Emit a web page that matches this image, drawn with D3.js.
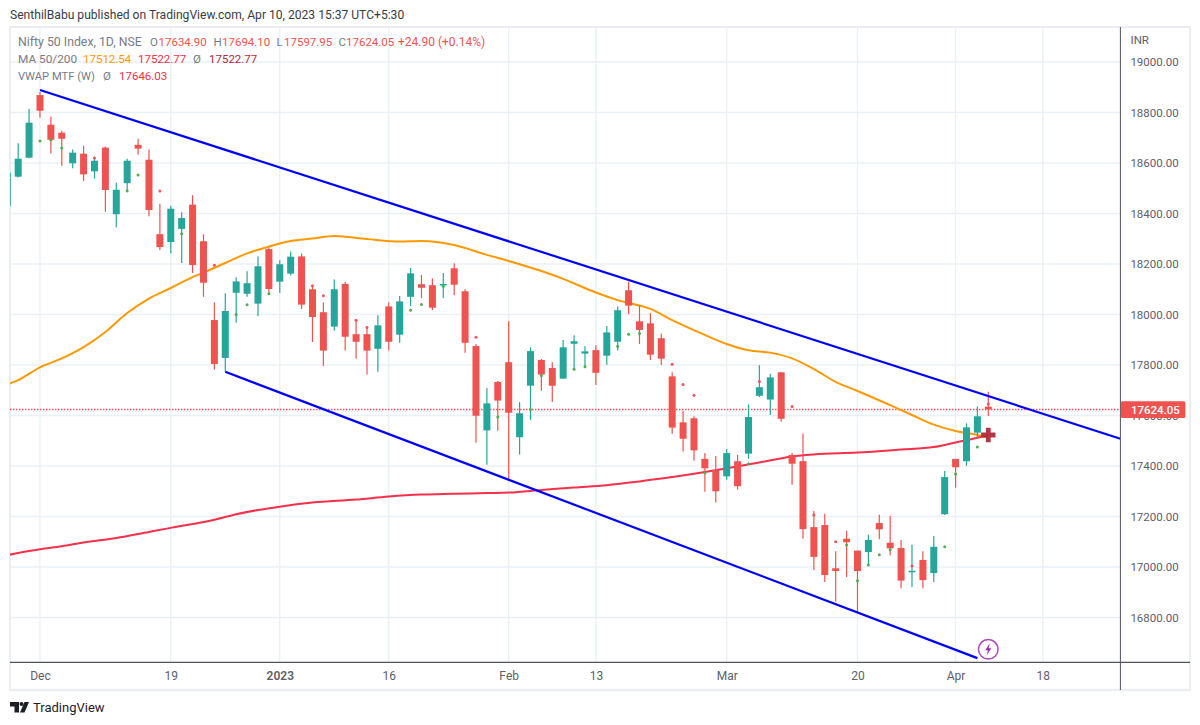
<!DOCTYPE html>
<html>
<head>
<meta charset="utf-8">
<title>Nifty 50 Index, 1D, NSE</title>
<script src="https://cdn.jsdelivr.net/npm/d3@7"></script>
<style>
    html, body { margin: 0; padding: 0; background: #fff; }
    svg { display: block; }
    text { font-family: "Roboto", sans-serif; }
</style>
</head>
<body>
<div id="chart"></div>
<script>
// trading days, the last five have no bars yet
var dates = ["2022-11-28","2022-11-29","2022-11-30","2022-12-01","2022-12-02","2022-12-05","2022-12-06","2022-12-07","2022-12-08","2022-12-09",
    "2022-12-12","2022-12-13","2022-12-14","2022-12-15","2022-12-16","2022-12-19","2022-12-20","2022-12-21","2022-12-22","2022-12-23",
    "2022-12-26","2022-12-27","2022-12-28","2022-12-29","2022-12-30","2023-01-02","2023-01-03","2023-01-04","2023-01-05","2023-01-06",
    "2023-01-09","2023-01-10","2023-01-11","2023-01-12","2023-01-13","2023-01-16","2023-01-17","2023-01-18","2023-01-19","2023-01-20",
    "2023-01-23","2023-01-24","2023-01-25","2023-01-27","2023-01-30","2023-01-31","2023-02-01","2023-02-02","2023-02-03","2023-02-06",
    "2023-02-07","2023-02-08","2023-02-09","2023-02-10","2023-02-13","2023-02-14","2023-02-15","2023-02-16","2023-02-17","2023-02-20",
    "2023-02-21","2023-02-22","2023-02-23","2023-02-24","2023-02-27","2023-02-28","2023-03-01","2023-03-02","2023-03-03","2023-03-06",
    "2023-03-08","2023-03-09","2023-03-10","2023-03-13","2023-03-14","2023-03-15","2023-03-16","2023-03-17","2023-03-20","2023-03-21",
    "2023-03-22","2023-03-23","2023-03-24","2023-03-27","2023-03-28","2023-03-29","2023-03-31","2023-04-03","2023-04-05","2023-04-06",
    "2023-04-10","2023-04-11","2023-04-12","2023-04-13","2023-04-17","2023-04-18"];

var opens = [18430,18545.7,18621,18869,18751.6,18720,18599,18637,18567,18661,18397,18520,18672,18613,18318,18287,18339,18435,18290,17978,
    17828,18086,18082,18043,18259,18130,18162,18230,18100,18009,17952,18121,17922,17922,17864,18032,17920,18070,18120,18116,
    18118,18183,18092,17875,17541,17733,17811,17514,17718,17820,17788,17746,17884,17845,17859,17837,17892,18096,17973,17965,
    17906,17755,17573,17589,17428,17384,17359,17419,17449,17678,17663,17771,17444,17419,17158,17166,16995,17112,17065,17059,
    17174,17096,17075,16981,17028,16976,17209,17428,17419,17532,17634.9];
var highs = [18590,18678,18814,18881,18783,18728,18653,18668,18625,18665,18522,18617,18696,18653,18439,18431,18405,18472,18318,18049,
    18084,18148,18171,18230,18266,18215,18250,18242,18113,18048,18139,18129,17978,17952,17997,18049,18073,18184,18156,18143,
    18164,18203,18100,17883,17709,17737,17974,17653,17870,17824,17811,17899,17918,17874,17878,17954,18032,18130,18035,18005,
    17925,17771,17618,17597,17451,17440,17467,17444,17644,17799,17764,17772,17451,17529,17222,17211,17062,17144,17065,17128,
    17207,17203,17107,17088,17062,17123,17380,17428,17569,17636,17694.1];
var lows = [18410,18543,18618.5,18779,18638,18589,18579,18529,18538,18407,18346,18484,18633,18389,18255,18243,18204,18164,18070,17781,
    17773,17967,18070,17994,18081,18085,18154,18022,17891,17797,17936,17857,17825,17762,17773,17857,17888,18034,18065,18018,
    18065,18077,17849,17492,17405,17540,17344,17445,17583,17698,17653,17746,17783,17793,17721,17801,17857,18002,17883,17820,
    17800,17528,17457,17421,17298,17255,17346,17306,17429,17673,17602,17575,17326,17112,16988,16941,16863,16960,16822,17008,
    17110,17046,16916,16921,16916,16941,17206,17314,17401,17508,17597.95];
var closes = [18561.6,18617,18759.6,18807,18692,18696,18641,18555,18609,18493,18494,18609,18657,18414,18267,18419,18382,18196,18126,17804,
    18014,18131,18124,18191,18101,18199,18229,18039,17990,17857,18100,17912,17892,17857,17957,17892,18052,18163,18106,18027,
    18121,18118,17888,17599,17648,17659,17611,17609,17855,17762,17718,17870,17894,17854,17769,17929,18017,18035,17939,17841,
    17825,17552,17508,17462,17391,17300,17451,17320,17594,17712,17751,17587,17409,17150,17040,16968,16984,17098,16984,17107,
    17149,17074,16946,16985,16948,17080,17356,17395,17553,17597,17624.05];

var ma50Bars = [0,1,3,5,6,7,9,11,13,15,17,18,20,22,24,26,28,30,33,36,38,41,44,46,49,51,54,56,59,61,64,66,68,70,72,74,76,78,81,83,85,87,89,90];
var ma50Values = [17723,17740,17791,17826,17847,17871,17931,18006,18063,18105,18148,18166,18204,18242,18269,18291,18301,18311,18299,18289,18291,18275,18236,18212,18172,18141,18087,18057,18022,17978,17919,17883,17858,17849,17826,17784,17733,17697,17641,17602,17564,17539,17523,17512.54];

var ma200Bars = [0,3,5,7,10,13,15,19,21,25,28,32,35,38,41,44,46,49,52,55,58,61,64,66,69,72,74,78,82,85,87,89,90];
var ma200Values = [17047,17070,17082,17097,17115,17139,17155,17187,17209,17239,17255,17267,17279,17287,17290,17293,17295,17305,17315,17324,17339,17356,17376,17391,17414,17438,17446,17453,17465,17475,17493,17512,17522.77];

var vwapBars = [3,4,5,8,11,12,14,16,19,21,22,24,28,29,32,33,37,38,40,43,45,48,49,52,53,56,57,58,61,62,63,64,68,69,72,74,76,77,78,79,80,81,83,86,87,89,90];
var vwapValues = [18687,18691,18659,18620,18490,18552,18489,18320,18195,18000,18039,18082,18114,18074,17977,17949,18017,18040,18112,17910,17594,17624,17758,17783,17793,17874,17922,17925,17803,17723,17680,17372,17409,17735,17636,17206,17100,17087,16946,17008,17049,17068,17004,17080,17368,17475,17646.03];
var vwapSides = ["up","up","up","down","up","up","down","up","down","up","up","up","down","down","down","down","up","up","up","down","up","up","up","up","up","up","up","up","down","down","down","up","up","down","down","down","down","up","up","up","up","up","down","up","up","up","down"];

// trend lines drawn by the author: [bar, price]
var upperTrend = [[3,18889],[102.12,17508]];
var lowerTrend = [[20,17773],[89,16639]];

var crossBar = 90;
var crossPrice = 17522.77;
var lastClose = 17624.05;

var priceTicks = [16800,17000,17200,17400,17600,17800,18000,18200,18400,18600,18800,19000];
var dateTicks = ["2022-12-01","2022-12-19","2023-01-02","2023-01-16","2023-02-01","2023-02-13","2023-03-01","2023-03-20","2023-04-03","2023-04-18"];
var dateTickLabels = ["Dec","19","2023","16","Feb","13","Mar","20","Apr","18"];

var UP = "#26a69a", DOWN = "#ef5350", GRID = "#e9f0f6", AXIS = "#50535e", LABEL = "#5d606b", MUTED = "#787b86";

var paneLeft = 10, paneRight = 1120.4, outerRight = 1190, paneTop = 27, paneBottom = 662.3, outerBottom = 690;

var svg = d3.select("#chart").append("svg").attr("width", 1200).attr("height", 725);

var x = d3.scaleLinear().domain([0.25, 102.12]).range([paneLeft, paneRight]);
var y = d3.scaleLinear().domain([16800, 19000]).range([617.5, 62]);

svg.append("defs").append("clipPath").attr("id", "pane")
    .append("rect").attr("x", paneLeft).attr("y", paneTop).attr("width", paneRight - paneLeft).attr("height", paneBottom - paneTop);

// frame
svg.append("rect").attr("x", paneLeft).attr("y", paneTop).attr("width", outerRight - paneLeft).attr("height", outerBottom - paneTop)
    .attr("fill", "none").attr("stroke", "#e6e8ee").attr("stroke-width", 1.5);
svg.append("line").attr("x1", paneLeft).attr("x2", outerRight).attr("y1", outerBottom).attr("y2", outerBottom)
    .attr("stroke", "#ecedf2").attr("stroke-width", 2.5);

// grid
var grid = svg.append("g");
grid.selectAll(".h").data(priceTicks).join("line")
    .attr("x1", paneLeft).attr("x2", paneRight).attr("y1", d => y(d)).attr("y2", d => y(d))
    .attr("stroke", GRID).attr("stroke-width", 1.3);
grid.selectAll(".v").data(dateTicks).join("line")
    .attr("x1", d => x(dates.indexOf(d))).attr("x2", d => x(dates.indexOf(d)))
    .attr("y1", paneTop).attr("y2", paneBottom)
    .attr("stroke", GRID).attr("stroke-width", 1.3);

var pane = svg.append("g").attr("clip-path", "url(#pane)");

// last price line
pane.append("line").attr("x1", paneLeft).attr("x2", paneRight).attr("y1", y(lastClose)).attr("y2", y(lastClose))
    .attr("stroke", "#f7525f").attr("stroke-width", 1.6).attr("stroke-dasharray", "1.5 1.5");

// moving averages
var maLine = d3.line().x(d => x(d[0])).y(d => y(d[1])).curve(d3.curveMonotoneX);
pane.append("path").attr("d", maLine(d3.zip(ma50Bars, ma50Values)))
    .attr("fill", "none").attr("stroke", "#ff9800").attr("stroke-width", 2);
pane.append("path").attr("d", maLine(d3.zip(ma200Bars, ma200Values)))
    .attr("fill", "none").attr("stroke", "#f5304a").attr("stroke-width", 2);

// candles
var bars = opens.map((o, i) => ({ i: i, o: o, h: highs[i], l: lows[i], c: closes[i] }));
var candle = pane.selectAll(".candle").data(bars).join("g").attr("class", "candle");
candle.append("line")
    .attr("x1", d => x(d.i)).attr("x2", d => x(d.i))
    .attr("y1", d => y(d.h)).attr("y2", d => y(d.l))
    .attr("stroke", d => d.c >= d.o ? UP : DOWN).attr("stroke-width", 1.2);
candle.append("rect")
    .attr("x", d => x(d.i) - 3.5).attr("width", 7)
    .attr("y", d => y(Math.max(d.o, d.c)))
    .attr("height", d => Math.max(1.5, Math.abs(y(d.o) - y(d.c))))
    .attr("fill", d => d.c >= d.o ? UP : DOWN);

// vwap dots
pane.selectAll(".vwap").data(vwapBars).join("circle")
    .attr("cx", d => x(d))
    .attr("cy", (d, i) => y(vwapValues[i]))
    .attr("r", 1.5)
    .attr("fill", (d, i) => vwapSides[i] == "up" ? "#4caf50" : "#f7525f");

// trend lines
[upperTrend, lowerTrend].forEach(function(t) {
    pane.append("line")
        .attr("x1", x(t[0][0])).attr("y1", y(t[0][1]))
        .attr("x2", x(t[1][0])).attr("y2", y(t[1][1]))
        .attr("stroke", "#0000ff").attr("stroke-width", 2.2);
});

// ma cross marker
var cx = x(crossBar), cy = y(crossPrice);
pane.append("path")
    .attr("d", d3.symbol().type(d3.symbolCross).size(115)())
    .attr("transform", "translate(" + cx + "," + cy + ")")
    .attr("fill", "#b02a3c").attr("opacity", 0.95);

// lightning badge
var badge = svg.append("g").attr("transform", "translate(" + x(90) + ",649.3)");
badge.append("circle").attr("r", 9.8).attr("fill", "#fff").attr("stroke", "#ab47bc").attr("stroke-width", 1.5);
badge.append("path").attr("d", "M1.5,-6 L-3,1 L-0.3,1 L-1.5,6 L3,-1 L0.3,-1 Z").attr("fill", "#9c27b0");

// axis frame lines
svg.append("line").attr("x1", paneRight).attr("x2", paneRight).attr("y1", paneTop).attr("y2", outerBottom)
    .attr("stroke", AXIS).attr("stroke-width", 1);
svg.append("line").attr("x1", paneLeft).attr("x2", outerRight).attr("y1", paneBottom).attr("y2", paneBottom)
    .attr("stroke", AXIS).attr("stroke-width", 1.3);

// price axis
var yAxis = svg.append("g").attr("transform", "translate(" + paneRight + ",0)")
    .call(d3.axisRight(y).tickValues(priceTicks).tickFormat(d => d.toFixed(2)).tickSize(0).tickPadding(10));
yAxis.select(".domain").remove();
yAxis.selectAll("text").attr("font-size", 11.5).attr("fill", LABEL).style("font-family", "Roboto");

svg.append("text").attr("x", 1130.5).attr("y", 44).attr("font-size", 11.5).attr("fill", LABEL).text("INR");

// time axis
var xAxis = svg.append("g").attr("transform", "translate(0," + paneBottom + ")")
    .call(d3.axisBottom(x)
        .tickValues(dateTicks.map(d => dates.indexOf(d)))
        .tickFormat((d, i) => dateTickLabels[i])
        .tickSize(0).tickPadding(9));
xAxis.select(".domain").remove();
xAxis.selectAll("text").attr("font-size", 12).attr("fill", LABEL).style("font-family", "Roboto")
    .attr("font-weight", (d, i) => dateTickLabels[i] == "2023" ? 600 : 400);

// last price tag
svg.append("rect").attr("x", paneRight + 0.5).attr("y", y(lastClose) - 8.3).attr("width", 64.5).attr("height", 16.8).attr("rx", 1.5)
    .attr("fill", DOWN);
svg.append("text").attr("x", paneRight + 10.5).attr("y", y(lastClose) + 4.2)
    .attr("font-size", 11.5).attr("font-weight", 500).attr("fill", "#fff").text(lastClose.toFixed(2));

// header and legend
svg.append("text").attr("x", 10).attr("y", 19).attr("font-size", 12.1).attr("fill", "#3a3c44")
    .text("SenthilBabu published on TradingView.com, Apr 10, 2023 15:37 UTC+5:30");

function legend(xPos, yPos, txt, color, size) {
    svg.append("text").attr("x", xPos).attr("y", yPos).attr("font-size", size || 11.5).attr("fill", color).text(txt);
}
legend(18, 46, "Nifty 50 Index, 1D, NSE", MUTED, 12.3);
legend(150, 46, "O", MUTED);
legend(158.5, 46, "17634.90", DOWN);
legend(213.5, 46, "H", MUTED);
legend(222, 46, "17694.10", DOWN);
legend(276.5, 46, "L", MUTED);
legend(284, 46, "17597.95", DOWN);
legend(338.5, 46, "C", MUTED);
legend(346, 46, "17624.05", DOWN);
legend(398, 46, "+24.90 (+0.14%)", DOWN, 12);
legend(18, 63, "MA 50/200", MUTED, 11.8);
legend(83, 63, "17512.54", "#ff9800");
legend(138, 63, "17522.77", "#f5304a");
legend(193, 63, "Ø", MUTED);
legend(209, 63, "17522.77", "#b02a3c");
legend(18, 80, "VWAP MTF (W)", MUTED, 11.2);
legend(103, 80, "Ø", MUTED);
legend(119, 80, "17646.03", "#f5304a");

// footer logo
var logo = svg.append("g").attr("fill", "#1c1e26");
logo.append("path").attr("d", "M10,702 H19 V712.5 H14.5 V706.5 H10 Z");
logo.append("circle").attr("cx", 21.5).attr("cy", 704).attr("r", 2);
logo.append("path").attr("d", "M24.5,702 H29 L24.5,712.5 H20 Z");
svg.append("text").attr("x", 33).attr("y", 712).attr("font-size", 13).attr("fill", "#1c1e26").text("TradingView");
</script>
</body>
</html>
